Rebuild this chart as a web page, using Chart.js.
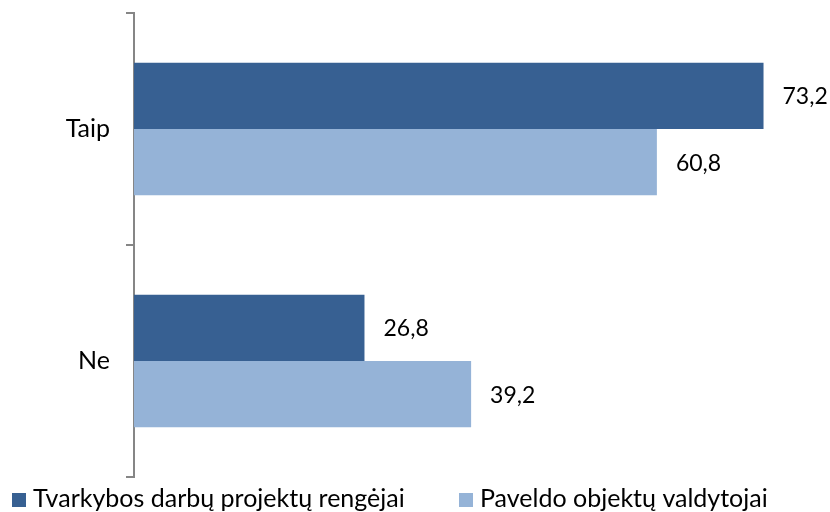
<!DOCTYPE html>
<html>
<head>
<meta charset="utf-8">
<script src="https://cdn.jsdelivr.net/npm/chart.js@4"></script>
<style>
  html, body { margin: 0; padding: 0; background: #fff; }
  #wrap { width: 830px; height: 512px; }
</style>
</head>
<body>
<div id="wrap"><canvas id="cv" width="830" height="512"></canvas></div>
<script>
// --- data ---
const categories = ['Taip', 'Ne'];
const seriesNames = ['Tvarkybos darbų projektų rengėjai', 'Paveldo objektų valdytojai'];
const rengejai = [73.2, 26.8];
const valdytojai = [60.8, 39.2];

const FONT = 'Lato, "Open Sans", sans-serif';

// value labels to the right of each bar, comma decimals
const barLabels = {
  id: 'barLabels',
  afterDatasetsDraw(chart) {
    const ctx = chart.ctx;
    ctx.save();
    ctx.font = '23px ' + FONT;
    ctx.fillStyle = '#000';
    ctx.textBaseline = 'middle';
    ctx.textAlign = 'left';
    chart.data.datasets.forEach((ds, i) => {
      chart.getDatasetMeta(i).data.forEach((bar, j) => {
        ctx.fillText(ds.data[j].toFixed(1).replace('.', ','), bar.x + 19, bar.y + 1);
      });
    });
    ctx.restore();
  }
};

// legend drawn along the bottom, like the office chart (left aligned, wide gap)
const bottomLegend = {
  id: 'bottomLegend',
  afterDraw(chart) {
    const ctx = chart.ctx;
    const xs = [12, 459];
    ctx.save();
    ctx.font = '25px ' + FONT;
    ctx.textBaseline = 'middle';
    ctx.textAlign = 'left';
    chart.data.datasets.forEach((ds, i) => {
      ctx.fillStyle = ds.backgroundColor;
      ctx.fillRect(xs[i], 493, 14, 14);
      ctx.fillStyle = '#000';
      ctx.fillText(ds.label, xs[i] + 21, 499);
    });
    ctx.restore();
  }
};

new Chart(document.getElementById('cv').getContext('2d'), {
  type: 'bar',
  data: {
    labels: categories,
    datasets: [
      { label: seriesNames[0], data: rengejai, backgroundColor: '#376092' },
      { label: seriesNames[1], data: valdytojai, backgroundColor: '#95B3D7' }
    ]
  },
  options: {
    indexAxis: 'y',
    responsive: false,
    animation: false,
    layout: { padding: { top: 13, right: 8, left: 0, bottom: 35 } },
    categoryPercentage: 0.571,
    barPercentage: 1,
    plugins: {
      legend: { display: false },
      tooltip: { enabled: false }
    },
    scales: {
      x: { display: false, min: 0, max: 80 },
      y: {
        grid: { drawOnChartArea: false, drawTicks: true, tickLength: 8, color: '#868686', lineWidth: 2 },
        border: { color: '#868686', width: 2 },
        ticks: { font: { family: FONT, size: 25 }, color: '#000', padding: 16 },
        afterFit(scale) {
          scale.width = 134;
          scale.paddingTop = 0;
          scale.paddingBottom = 0;
        }
      }
    }
  },
  plugins: [barLabels, bottomLegend]
});
</script>
</body>
</html>
